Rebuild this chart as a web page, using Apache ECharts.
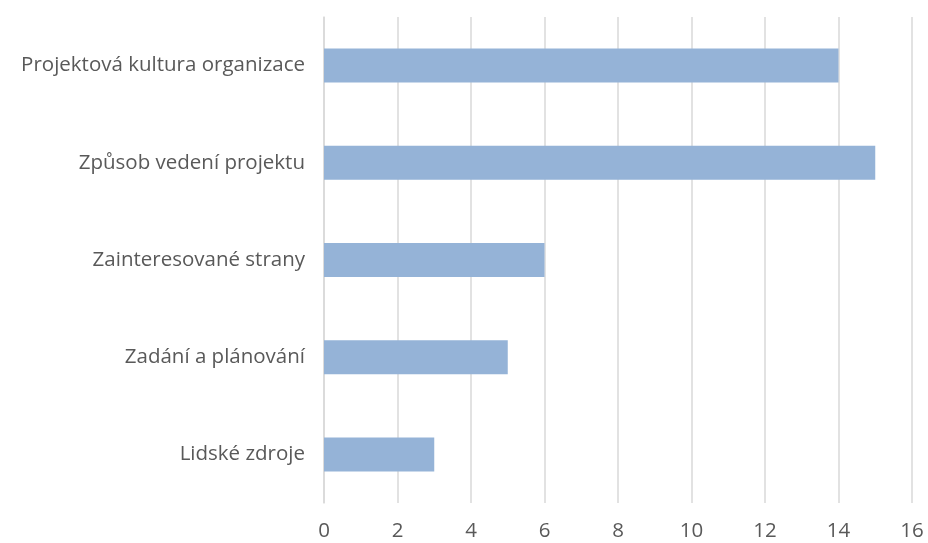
<!DOCTYPE html>
<html>
<head>
<meta charset="utf-8">
<script src="https://cdn.jsdelivr.net/npm/echarts@6/dist/echarts.min.js"></script>
<style>
  html, body { margin: 0; padding: 0; background: #fff; }
  #chart { width: 928px; height: 543px; }
</style>
</head>
<body>
<div id="chart"></div>
<script>
// categories listed bottom-to-top, as the category axis draws them
const categories = [
  'Lidské zdroje',
  'Zadání a plánování',
  'Zainteresované strany',
  'Způsob vedení projektu',
  'Projektová kultura organizace'
];
const counts = [3, 5, 6, 15, 14];

const fontFamily = '"Open Sans", "Noto Sans", sans-serif';

const chart = echarts.init(document.getElementById('chart'));

const option = {
  animation: false,
  grid: {
    left: 324,
    right: 16,
    top: 17,
    bottom: 40
  },
  xAxis: {
    type: 'value',
    min: 0,
    max: 16,
    interval: 2,
    axisLine: { show: false },
    axisTick: { show: false },
    axisLabel: {
      color: '#595959',
      fontSize: 20.5,
      fontFamily: fontFamily,
      margin: 18
    },
    splitLine: {
      lineStyle: { color: '#d9d9d9', width: 1.5 }
    }
  },
  yAxis: {
    type: 'category',
    data: categories,
    axisLine: {
      show: true,
      lineStyle: { color: '#d9d9d9', width: 1.5 }
    },
    axisTick: { show: false },
    axisLabel: {
      color: '#595959',
      fontSize: 20.5,
      fontFamily: fontFamily,
      margin: 19
    }
  },
  series: [{
    type: 'bar',
    data: counts,
    barWidth: '35%',
    itemStyle: { color: '#95b3d7' }
  }]
};

chart.setOption(option);
</script>
</body>
</html>
